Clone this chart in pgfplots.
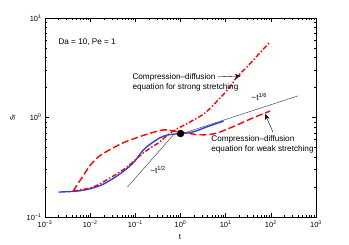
\documentclass[border=0pt]{standalone}
\usepackage{fontspec}
\setmainfont{Liberation Sans}
\usepackage{pgfplots}
\pgfplotsset{compat=1.18}
\usetikzlibrary{arrows.meta}
\definecolor{myblue}{RGB}{40,70,230}
\definecolor{myred}{RGB}{255,0,0}
\begin{document}
\begin{tikzpicture}
\useasboundingbox (-45bp,-28bp) rectangle (304bp,217bp);
\begin{axis}[
  at={(0,0)}, anchor=south west,
  scale only axis, width=271bp, height=199bp,
  xmode=log, ymode=log,
  xmin=1e-3, xmax=1e3, ymin=0.1, ymax=10,
  xtick={1e-3,1e-2,1e-1,1,1e1,1e2,1e3},
  xticklabels={10\textsuperscript{−3},10\textsuperscript{−2},10\textsuperscript{−1},10\textsuperscript{0},10\textsuperscript{1},10\textsuperscript{2},10\textsuperscript{3}},
  minor xtick={2e-3,3e-3,4e-3,5e-3,6e-3,7e-3,8e-3,9e-3,
               2e-2,3e-2,4e-2,5e-2,6e-2,7e-2,8e-2,9e-2,
               2e-1,3e-1,4e-1,5e-1,6e-1,7e-1,8e-1,9e-1,
               2,3,4,5,6,7,8,9,
               20,30,40,50,60,70,80,90,
               200,300,400,500,600,700,800,900},
  ytick={0.1,1,10},
  yticklabels={10\textsuperscript{−1},10\textsuperscript{0},10\textsuperscript{1}},
  minor ytick={0.2,0.3,0.4,0.5,0.6,0.7,0.8,0.9,2,3,4,5,6,7,8,9},
  tick align=inside, tick pos=both,
  major tick length=4bp, minor tick length=2bp,
  tick label style={font=\fontsize{7.5}{9}\selectfont},
  every tick/.style={black, line width=0.4bp},
  axis line style={line width=0.6bp},
  xlabel={t}, ylabel={s\textsubscript{r}},
  label style={font=\fontsize{8}{9.6}\selectfont},
  xlabel style={at={(axis description cs:0.498,-0.1)}, anchor=center},
  ylabel style={at={(axis description cs:-0.118,0.5)}, anchor=center},
  clip=false,
]
% reference slopes
\addplot[gray!60!black, line width=0.5bp] coordinates {(0.067,0.2) (0.7,0.67)};
\addplot[gray!60!black, line width=0.5bp] coordinates {(1,0.68) (400,1.65)};
% full model
\addplot[myblue, line width=1.4bp, smooth] coordinates {
 (0.002,0.178) (0.005,0.182) (0.01,0.192) (0.02,0.215) (0.04,0.26) (0.07,0.315)
 (0.1,0.37) (0.15,0.47) (0.22,0.545) (0.35,0.625) (0.5,0.665) (0.7,0.68)
 (1,0.69) (1.5,0.70) (2,0.72) (3.2,0.78) (5,0.84) (9,0.92)};
% weak stretching
\addplot[myred, line width=1.4bp, smooth, dash pattern=on 7bp off 3bp] coordinates {
 (0.0042,0.182) (0.007,0.26) (0.01,0.33) (0.015,0.40) (0.024,0.46) (0.053,0.555)
 (0.1,0.62) (0.16,0.667) (0.35,0.74) (0.5,0.75) (0.9,0.72) (1.4,0.70) (2.1,0.675)
 (3.5,0.67) (5,0.68) (7.5,0.715) (17.8,0.84) (40,0.99) (96,1.16)};
% strong stretching
\addplot[myred, line width=1.4bp, smooth, dash pattern=on 5bp off 2bp on 1.5bp off 2bp] coordinates {
 (0.0042,0.182) (0.0116,0.20) (0.0275,0.247) (0.0655,0.318) (0.15,0.44) (0.35,0.57)
 (0.5,0.66) (0.75,0.748) (1.47,0.88) (3.48,1.11) (7.5,1.57) (12.5,2.03) (17.8,2.55)
 (29.6,3.22) (57,4.45) (96,5.74)};
\addplot[only marks, mark=*, mark size=3.5bp, black] coordinates {(1,0.69)};
% annotations
\node[anchor=west, font=\fontsize{8.2}{10}\selectfont] at (rel axis cs:0.037,0.879) {Da = 10, Pe = 1};
\node[anchor=west, align=left, font=\fontsize{8.2}{10}\selectfont] at (rel axis cs:0.31,0.678)
  {Compression–diffusion\\equation for strong stretching};
\node[anchor=west, align=left, font=\fontsize{8.2}{10}\selectfont] at (rel axis cs:0.601,0.367)
  {Compression–diffusion\\equation for weak stretching};
\node[anchor=west, font=\fontsize{8.2}{10}\selectfont] at (rel axis cs:0.749,0.603) {\textasciitilde t\textsuperscript{1/6}};
\node[anchor=west, font=\fontsize{8.2}{10}\selectfont] at (rel axis cs:0.376,0.236) {\textasciitilde t\textsuperscript{1/2}};
\draw[-{Stealth[length=6bp,width=4.5bp]}, line width=0.4bp] (rel axis cs:0.638,0.704) -- (rel axis cs:0.723,0.709);
\draw[-{Stealth[length=6bp,width=4.5bp]}, line width=0.4bp] (rel axis cs:0.841,0.427) -- (rel axis cs:0.812,0.518);
\end{axis}
\end{tikzpicture}
\end{document}
